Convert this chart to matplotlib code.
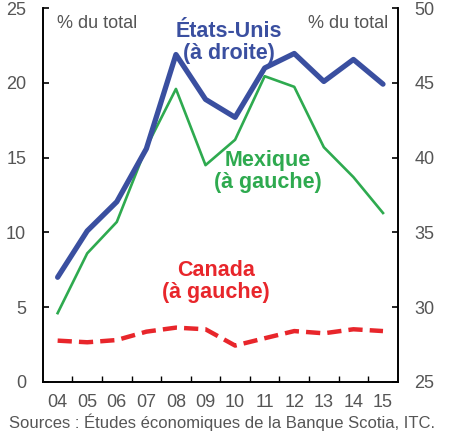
import matplotlib.pyplot as plt

plt.rcParams['font.family'] = ['Liberation Sans', 'DejaVu Sans']

years = ['04', '05', '06', '07', '08', '09', '10', '11', '12', '13', '14', '15']
usa = [32.0, 35.1, 37.05, 40.6, 46.9, 43.9, 42.7, 46.0, 46.97, 45.1, 46.57, 44.92]
mexique = [4.6, 8.6, 10.7, 15.7, 19.6, 14.5, 16.2, 20.45, 19.74, 15.7, 13.7, 11.3]
canada = [2.76, 2.65, 2.8, 3.36, 3.63, 3.52, 2.43, 2.92, 3.4, 3.25, 3.52, 3.4]

blue = '#3a4fa0'
green = '#2eaa4f'
red = '#e8262b'
grey = '#555555'

fig = plt.figure(figsize=(4.51, 4.32), dpi=100)
ax = fig.add_axes([0.095, 0.116, 0.787, 0.865])
ax2 = ax.twinx()

x = range(len(years))
ax.plot(x, mexique, color=green, lw=1.9, zorder=2)
ax.plot(x, canada, color=red, lw=3.2, dashes=(3.2, 1.6), zorder=2)
ax2.plot(x, usa, color=blue, lw=3.8, solid_capstyle='round', zorder=3)

ax.set_xlim(-0.5, 11.5)
ax.set_ylim(0, 25)
ax2.set_ylim(25, 50)
ax.set_yticks(range(0, 26, 5))
ax2.set_yticks(range(25, 51, 5))
ax.set_xticks(list(x))
ax.set_xticklabels(years)
ax.set_xticks([i + 0.5 for i in range(11)], minor=True)

for a in (ax, ax2):
    a.spines['top'].set_visible(False)
    for s in a.spines.values():
        s.set_linewidth(1.2)
    a.tick_params(axis='y', direction='in', length=4, width=1.2,
                  labelsize=13, labelcolor=grey, pad=12)
ax.tick_params(axis='x', which='major', length=0, labelsize=13,
               labelcolor=grey, pad=9)
ax.tick_params(axis='x', which='minor', direction='in', length=4, width=1)

ax.text(0.04, 0.96, '% du total', transform=ax.transAxes, fontsize=13,
        color=grey, va='center', ha='left')
ax.text(0.972, 0.96, '% du total', transform=ax.transAxes, fontsize=13,
        color=grey, va='center', ha='right')

ax.text(0.524, 0.908, 'États-Unis\n(à droite)', transform=ax.transAxes,
        fontsize=15.5, fontweight='bold', color=blue, ha='center', va='center',
        linespacing=1.05, zorder=5)
ax.text(0.634, 0.563, 'Mexique\n(à gauche)', transform=ax.transAxes,
        fontsize=15.5, fontweight='bold', color=green, ha='center', va='center',
        linespacing=1.05)
ax.text(0.487, 0.269, 'Canada\n(à gauche)', transform=ax.transAxes,
        fontsize=15.5, fontweight='bold', color=red, ha='center', va='center',
        linespacing=1.05)

fig.text(0.492, 0.002, 'Sources : Études économiques de la Banque Scotia, ITC.',
         fontsize=12, color=grey, ha='center', va='bottom')

fig.savefig('out.png', dpi=100)
